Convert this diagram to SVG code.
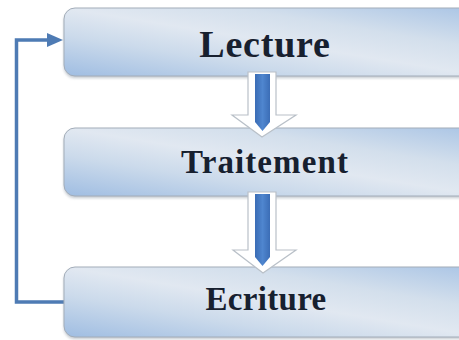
<svg xmlns="http://www.w3.org/2000/svg" width="459" height="340" viewBox="0 0 459 340">
  <style>
    .box { fill: url(#boxFill); stroke: #a3adb9; stroke-width: 1; }
    .shade { fill: #8d97a3; opacity: 0.55; filter: url(#soft); }
    .label { font-family: "Liberation Serif", "Times New Roman", serif; font-weight: bold; fill: #17202f; text-anchor: middle; }
    .loop { fill: none; stroke: #4e7bb4; stroke-width: 3.5; stroke-linejoin: miter; }
    .arrow-out { fill: #ffffff; stroke: #b9c0c8; stroke-width: 1.2; }
    .arrow-in { fill: url(#shaftFill); }
  </style>
  <defs>
    <linearGradient id="boxFill" x1="0" y1="1" x2="1" y2="0">
      <stop offset="0" stop-color="#9fbde2"/>
      <stop offset="0.3" stop-color="#cbdaeb"/>
      <stop offset="0.5" stop-color="#e1e8f1"/>
      <stop offset="0.7" stop-color="#d3dfec"/>
      <stop offset="1" stop-color="#a9c4e5"/>
    </linearGradient>
    <linearGradient id="shaftFill" x1="0" y1="0" x2="1" y2="0">
      <stop offset="0" stop-color="#3a6cb5"/>
      <stop offset="0.5" stop-color="#4f86cf"/>
      <stop offset="1" stop-color="#3b6db6"/>
    </linearGradient>
    <filter id="soft" x="-10%" y="-30%" width="120%" height="160%">
      <feGaussianBlur stdDeviation="1.5"/>
    </filter>
  </defs>

  <rect width="459" height="340" fill="#ffffff"/>

  <!-- feedback loop from the last step back to the first -->
  <g id="connectors">
    <path class="loop" d="M 68 302 H 16.5 V 40 H 50"/>
    <polygon fill="#4e7bb4" points="47,33 63,40 47,47"/>
  </g>

  <g id="lecture">
    <rect class="shade" x="64" y="10" width="420" height="68" rx="11"/>
    <rect class="box" x="64" y="8" width="420" height="68" rx="11"/>
    <text class="label" x="265" y="57" font-size="38" letter-spacing="0.8">Lecture</text>
  </g>

  <g id="traitement">
    <rect class="shade" x="64" y="130" width="420" height="68" rx="11"/>
    <rect class="box" x="64" y="128" width="420" height="68" rx="11"/>
    <text class="label" x="265" y="173" font-size="33" letter-spacing="1.1">Traitement</text>
  </g>

  <g id="ecriture">
    <rect class="shade" x="64" y="269" width="420" height="70" rx="11"/>
    <rect class="box" x="64" y="267" width="420" height="70" rx="11"/>
    <text class="label" x="266" y="310" font-size="33" letter-spacing="0.3">Ecriture</text>
  </g>

  <!-- block arrows between consecutive steps -->
  <g id="arrow1">
    <polygon class="arrow-out" points="248,72 276,72 276,115 296,115 262,137 232,115 248,115"/>
    <polygon class="arrow-in" points="255,74 270,74 270,122 262.5,131 255,122"/>
  </g>
  <g id="arrow2">
    <polygon class="arrow-out" points="248,192 276,192 276,250 296,250 263,273 233,250 248,250"/>
    <polygon class="arrow-in" points="255,194 270,194 270,257 262.5,266 255,257"/>
  </g>
</svg>
